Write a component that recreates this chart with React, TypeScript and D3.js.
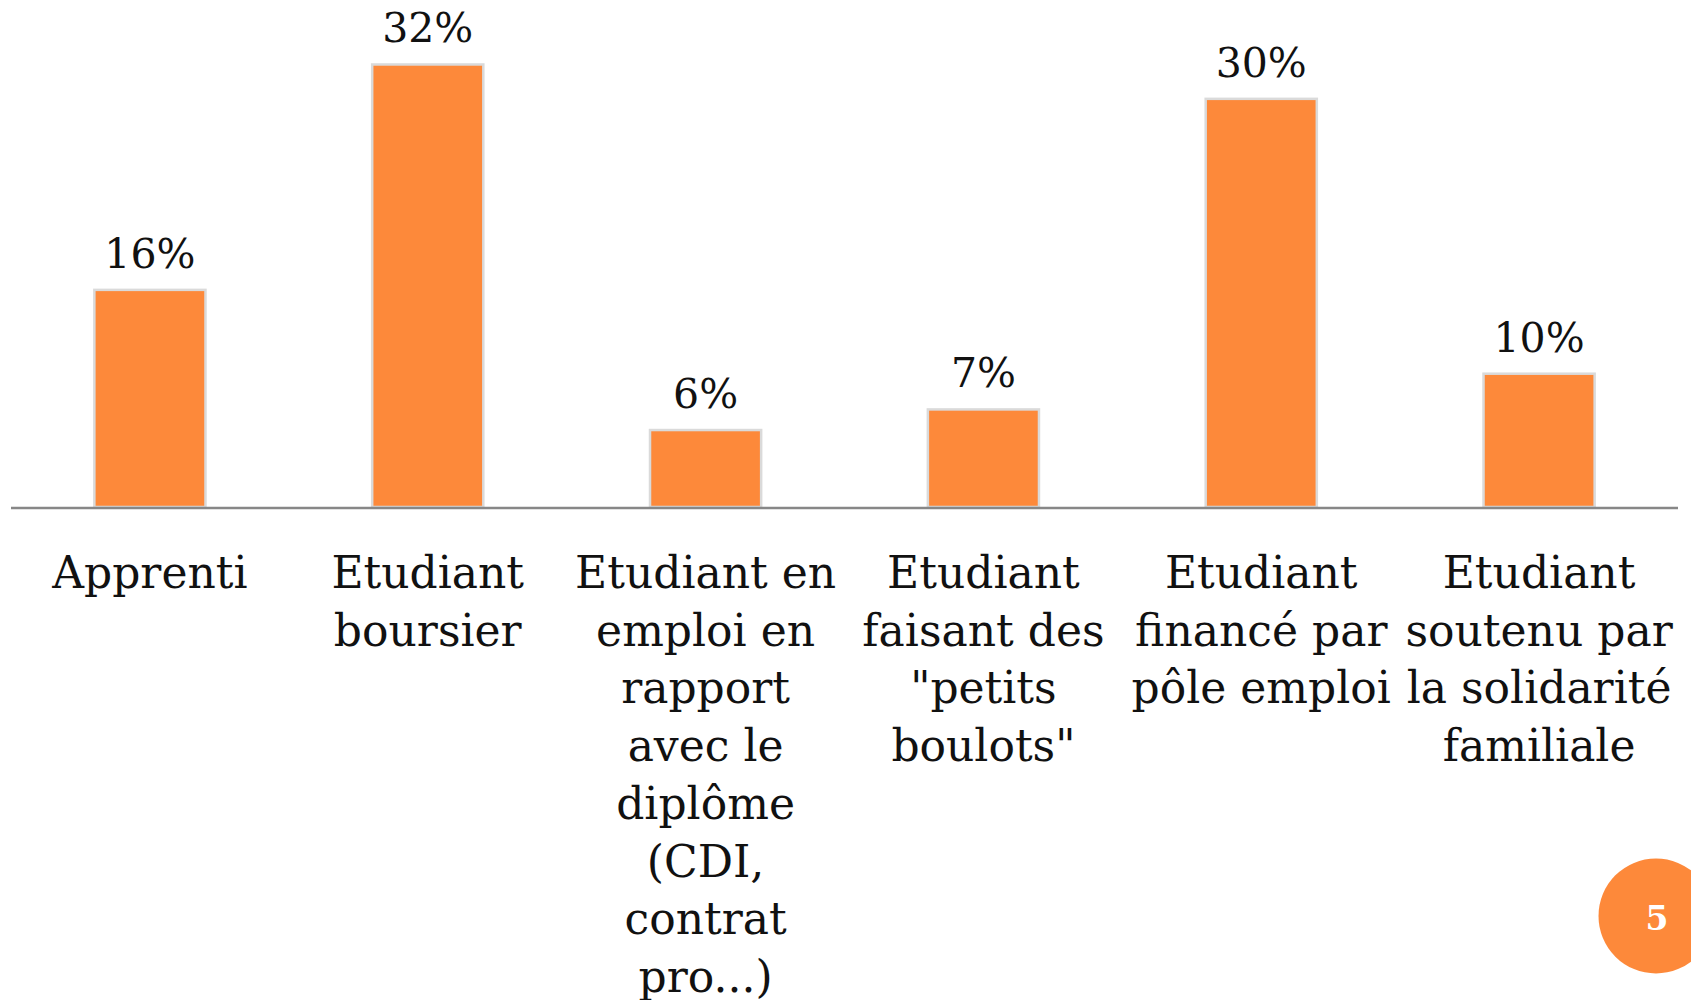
import React, { useEffect, useRef } from "react";
import * as d3 from "d3";

// categories (label lines as shown under each bar)
const categories = [
  "Apprenti",
  "Etudiant boursier",
  "Etudiant en emploi en rapport avec le diplôme (CDI, contrat pro...)",
  "Etudiant faisant des \"petits boulots\"",
  "Etudiant financé par pôle emploi",
  "Etudiant soutenu par la solidarité familiale",
];
const categoryLines = [
  ["Apprenti"],
  ["Etudiant", "boursier"],
  ["Etudiant en", "emploi en", "rapport", "avec le", "diplôme", "(CDI,", "contrat", "pro...)"],
  ["Etudiant", "faisant des", "\"petits", "boulots\""],
  ["Etudiant", "financé par", "pôle emploi"],
  ["Etudiant", "soutenu par", "la solidarité", "familiale"],
];
// share of students
const values = [0.158, 0.322, 0.056, 0.071, 0.297, 0.097];
const pageNumber = "5";

const ORANGE = "#FD893A";
const FONT = "'DejaVu Serif', 'Liberation Serif', serif";

const App = () => {
  const svgRef = useRef(null);

  useEffect(() => {
    const svg = d3.select(svgRef.current);
    svg.selectAll("*").remove();

    const left = 11;
    const right = 1678;
    const baseY = 507;

    const x = d3
      .scaleBand()
      .domain(categories)
      .range([left, right])
      .paddingInner(0.6)
      .paddingOuter(0.3);

    const y = d3.scaleLinear().domain([0, 0.35]).range([baseY, baseY - 481]);

    const fmt = (v) => Math.round(v * 100) + "%";

    // bars
    svg
      .append("g")
      .selectAll("rect")
      .data(values)
      .enter()
      .append("rect")
      .attr("x", (d, i) => x(categories[i]))
      .attr("y", (d) => y(d))
      .attr("width", x.bandwidth())
      .attr("height", (d) => y(0) - y(d))
      .attr("fill", ORANGE)
      .attr("stroke", "#dadada")
      .attr("stroke-width", 2.5);

    // axis line
    svg
      .append("line")
      .attr("x1", left)
      .attr("x2", right)
      .attr("y1", baseY + 1)
      .attr("y2", baseY + 1)
      .attr("stroke", "#878787")
      .attr("stroke-width", 2.5);

    // value labels
    svg
      .append("g")
      .selectAll("text")
      .data(values)
      .enter()
      .append("text")
      .attr("x", (d, i) => x(categories[i]) + x.bandwidth() / 2)
      .attr("y", (d) => y(d) - 22)
      .attr("text-anchor", "middle")
      .attr("font-family", FONT)
      .attr("font-size", 41)
      .attr("fill", "#111")
      .text(fmt);

    // category labels
    const cat = svg
      .append("g")
      .selectAll("text")
      .data(categories)
      .enter()
      .append("text")
      .attr("x", (d) => x(d) + x.bandwidth() / 2)
      .attr("y", 588)
      .attr("text-anchor", "middle")
      .attr("font-family", FONT)
      .attr("font-size", 44)
      .attr("fill", "#111");

    cat
      .selectAll("tspan")
      .data((d, i) => categoryLines[i])
      .enter()
      .append("tspan")
      .attr("x", function () {
        return d3.select(this.parentNode).attr("x");
      })
      .attr("dy", (d, i) => (i === 0 ? 0 : 57.7))
      .text((d) => d);

    // page number badge
    svg
      .append("circle")
      .attr("cx", 1656)
      .attr("cy", 916)
      .attr("r", 57.5)
      .attr("fill", ORANGE);

    svg
      .append("text")
      .attr("x", 1657)
      .attr("y", 930)
      .attr("text-anchor", "middle")
      .attr("font-family", FONT)
      .attr("font-weight", "bold")
      .attr("font-size", 33)
      .attr("fill", "#fff")
      .text(pageNumber);
  }, []);

  return (
    <svg
      ref={svgRef}
      width={1691}
      height={1000}
      style={{ position: "absolute", left: 0, top: 0, background: "#fff" }}
    ></svg>
  );
};

export default App;
